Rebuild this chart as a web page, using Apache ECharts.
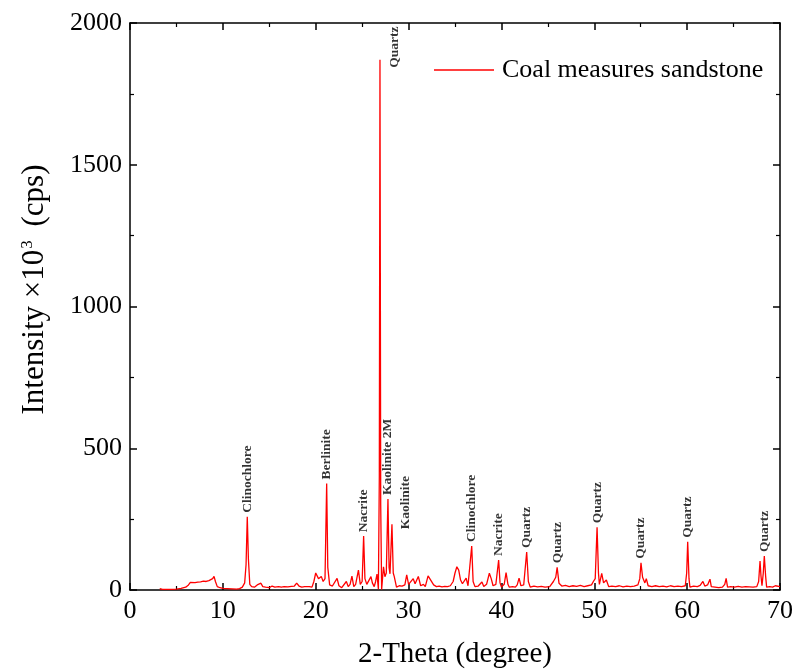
<!DOCTYPE html>
<html>
<head>
<meta charset="utf-8">
<script src="https://cdn.jsdelivr.net/npm/echarts@6/dist/echarts.min.js"></script>
<style>html,body{margin:0;padding:0;background:#fff}#c{width:793px;height:671px}</style>
</head>
<body>
<div id="c"></div>
<script>
// 2-Theta (degree) and intensity (x10^3 cps)
const seriesName = 'Coal measures sandstone';
const pattern = [
 [3.2,5],[3.5,2],[4.0,2],[4.5,2],[5.0,3],[5.5,6],[6.0,10],[6.3,18],[6.5,27],[6.7,24],
 [7.0,26],[7.3,28],[7.6,29],[7.9,31],[8.2,30],[8.5,33],[8.7,31],[8.9,40],[9.05,48],[9.2,30],
 [9.4,12],[9.7,8],[10.0,6],[10.5,5],[11.0,4],[11.5,3],[11.8,5],[12.1,10],[12.35,25],[12.5,90],
 [12.63,258],[12.75,110],[12.9,20],[13.1,12],[13.4,10],[13.7,18],[13.85,14],[14.1,24],[14.3,12],[14.6,10],
 [15.0,8],[15.3,14],[15.6,10],[16.0,12],[16.3,10],[16.6,12],[17.0,11],[17.4,13],[17.7,14],[17.95,24],
 [18.2,14],[18.5,10],[18.8,12],[19.0,9],[19.3,12],[19.6,10],[19.8,30],[20.0,60],[20.1,65],[20.3,40],
 [20.45,35],[20.6,48],[20.8,30],[21.0,40],[21.18,376],[21.3,80],[21.5,18],[21.8,14],[22.0,12],[22.3,41],
 [22.5,15],[22.8,8],[23.0,12],[23.3,30],[23.5,12],[23.7,20],[23.9,49],[24.1,12],[24.3,20],[24.6,70],
 [24.8,20],[25.0,30],[25.16,190],[25.3,40],[25.5,20],[25.7,25],[25.95,47],[26.1,25],[26.3,12],[26.45,30],
 [26.6,56],[26.75,3],[26.85,400],[26.92,1870],[27.0,300],[27.1,2],[27.3,82],[27.45,47],[27.6,60],[27.78,321],
 [27.9,80],[28.0,57],[28.21,232],[28.35,60],[28.46,47],[28.7,10],[29.0,15],[29.3,14],[29.6,18],[29.8,53],
 [30.0,20],[30.2,25],[30.5,40],[30.7,22],[30.9,28],[31.05,48],[31.3,15],[31.6,20],[31.8,12],[32.1,50],
 [32.3,45],[32.7,18],[33.0,12],[33.3,14],[33.6,11],[33.9,13],[34.2,12],[34.5,15],[34.8,30],[35.0,60],
 [35.2,82],[35.4,70],[35.6,35],[35.8,22],[36.0,25],[36.2,42],[36.4,15],[36.6,20],[36.8,155],[36.95,30],
 [37.15,12],[37.5,14],[37.9,28],[38.1,12],[38.4,20],[38.7,59],[38.9,40],[39.1,15],[39.4,20],[39.7,106],
 [39.85,25],[40.0,10],[40.3,20],[40.5,61],[40.7,20],[40.85,10],[41.2,12],[41.5,10],[41.7,18],[41.9,42],
 [42.1,15],[42.4,18],[42.72,134],[42.9,30],[43.1,10],[43.5,14],[43.9,11],[44.3,13],[44.7,10],[45.2,12],
 [45.6,30],[45.85,45],[46.0,80],[46.2,24],[46.5,14],[46.9,16],[47.3,12],[47.7,15],[48.1,13],[48.5,16],
 [48.9,12],[49.3,15],[49.7,18],[49.9,30],[50.1,40],[50.3,221],[50.45,60],[50.55,20],[50.8,59],[51.0,25],
 [51.3,35],[51.55,12],[51.9,14],[52.3,12],[52.7,15],[53.1,11],[53.5,14],[53.9,12],[54.3,14],[54.7,18],
 [54.9,40],[55.03,96],[55.2,45],[55.3,47],[55.45,25],[55.6,40],[55.8,15],[56.2,12],[56.6,15],[57.0,12],
 [57.4,14],[57.8,11],[58.2,15],[58.6,12],[59.0,14],[59.4,12],[59.8,15],[59.95,60],[60.06,170],[60.2,40],
 [60.3,10],[60.7,14],[61.1,12],[61.4,16],[61.7,30],[61.9,14],[62.2,18],[62.46,38],[62.6,12],[63.0,10],
 [63.4,8],[63.8,10],[64.05,20],[64.2,41],[64.35,10],[64.7,12],[65.1,10],[65.5,13],[65.9,10],[66.3,12],
 [66.7,11],[67.1,10],[67.5,12],[67.7,30],[67.85,102],[67.95,50],[68.06,15],[68.2,60],[68.31,120],[68.45,50],
 [68.56,10],[68.9,12],[69.2,10],[69.5,15],[69.7,10],[70.0,12]
];
// phase annotations: name, 2-theta, peak intensity
const phaseNames = ['Clinochlore','Berlinite','Nacrite','Quartz','Kaolinite 2M','Kaolinite','Clinochlore','Nacrite','Quartz','Quartz','Quartz','Quartz','Quartz','Quartz'];
const phaseTheta = [12.63,21.18,25.16,26.92,27.78,28.21,36.8,39.7,42.72,46.0,50.3,55.03,60.06,68.31];
const phaseHeight = [258,376,190,1870,321,232,155,106,134,80,221,96,170,120];
const xTicks = [0,10,20,30,40,50,60,70];
const yTicks = [0,500,1000,1500,2000];

const FONT = "'Liberation Serif','Times New Roman',serif";
// label offsets in the rotated label frame: [along text (up), across (right)]
const labelOffsets = {3:[-12,15], 5:[-9,14]};

const annData = phaseNames.map((n,i)=>{
  const item = {value:[phaseTheta[i], phaseHeight[i]], name:n};
  if (labelOffsets[i]) item.label = {offset: labelOffsets[i]};
  return item;
});

const axisCommon = {
  axisLine:{show:true, onZero:false, lineStyle:{color:'#000', width:1.5}},
  axisTick:{show:true, inside:true, length:7, lineStyle:{color:'#000', width:1.5}},
  minorTick:{show:true, splitNumber:2, length:4, lineStyle:{color:'#000', width:1.2}},
  splitLine:{show:false}
};

const chart = echarts.init(document.getElementById('c'), null, {renderer:'canvas'});
chart.setOption({
  animation:false,
  backgroundColor:'#fff',
  grid:{left:130, right:13, top:23, bottom:81, containLabel:false, outerBoundsMode:'none'},
  legend:{
    data:[{name:seriesName, icon:'rect'}], left:434, top:57, padding:0, itemWidth:60, itemHeight:1.5, itemGap:0,
    itemStyle:{color:'#ff0000'},
    textStyle:{fontFamily:FONT, fontSize:26, color:'#000', padding:[0,0,0,3]}
  },
  xAxis:[
    Object.assign({type:'value', min:xTicks[0], max:xTicks[xTicks.length-1], interval:10, position:'bottom',
      name:'2-Theta (degree)', nameLocation:'middle', nameGap:50,
      nameTextStyle:{fontFamily:FONT, fontSize:29, color:'#000'},
      axisLabel:{fontFamily:FONT, fontSize:26, color:'#000', margin:8, formatter:v=>String(v)}}, axisCommon),
    Object.assign({type:'value', min:xTicks[0], max:xTicks[xTicks.length-1], interval:10, position:'top',
      axisLabel:{show:false}}, axisCommon)
  ],
  yAxis:[
    Object.assign({type:'value', min:yTicks[0], max:yTicks[yTicks.length-1], interval:500, position:'left',
      name:'Intensity ×10{sup|3} (cps)', nameLocation:'middle', nameGap:80,
      nameTextStyle:{fontFamily:FONT, fontSize:31, color:'#000', padding:[0,0,0,34],
        rich:{sup:{fontFamily:FONT, fontSize:17, color:'#000', verticalAlign:'top', padding:[0,6,12,1]}}},
      axisLabel:{fontFamily:FONT, fontSize:26, color:'#000', margin:8, formatter:v=>String(v)}}, axisCommon),
    Object.assign({type:'value', min:yTicks[0], max:yTicks[yTicks.length-1], interval:500, position:'right',
      axisLabel:{show:false}}, axisCommon)
  ],
  series:[
    {name:seriesName, type:'line', data:pattern, symbol:'none', showSymbol:false,
     lineStyle:{color:'#ff0000', width:1.3}, itemStyle:{color:'#ff0000'}, z:3},
    {name:'phases', type:'scatter', data:annData, symbolSize:0, silent:true, z:4,
     label:{show:true, position:'top', distance:4, rotate:90, align:'left', verticalAlign:'middle',
       formatter:p=>p.name, fontFamily:FONT, fontSize:13.5, fontWeight:'bold', color:'#000'}}
  ]
});
</script>
</body>
</html>
